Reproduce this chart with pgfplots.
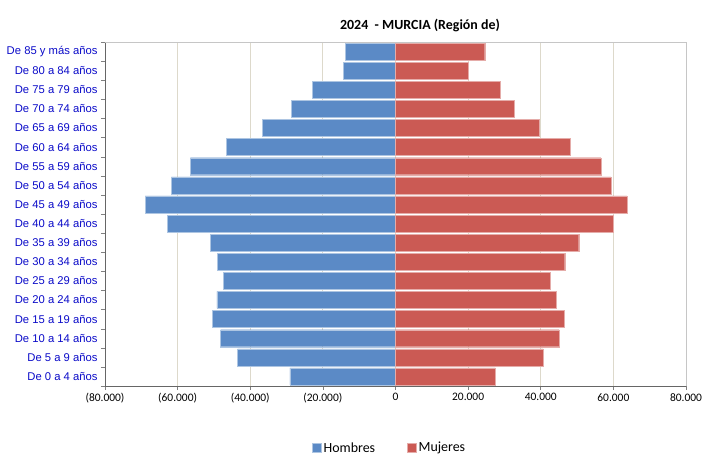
\documentclass[border=0pt]{standalone}
\usepackage{pgfplots}
\pgfplotsset{compat=1.18}
\usepackage{fontspec}
\setmainfont{Carlito}
\newfontfamily\labfont{Liberation Sans}
\definecolor{hblue}{RGB}{91,138,198}
\definecolor{mred}{RGB}{203,90,84}
\definecolor{labblue}{RGB}{10,10,200}
\definecolor{gridc}{RGB}{221,217,203}
\begin{document}
\begin{tikzpicture}
\useasboundingbox (0bp,0bp) rectangle (718bp,469bp);
\node[font=\fontsize{14}{16}\selectfont\bfseries] at (420bp,443bp) {2024\ \ - MURCIA (Región de)};
\begin{axis}[
  at={(105bp,83bp)}, anchor=south west,
  scale only axis, width=581bp, height=344bp,
  xmin=-80000, xmax=80000, ymin=-0.5, ymax=17.5,
  scaled x ticks=false,
  xtick={-80000,-60000,-40000,-20000,0,20000,40000,60000,80000},
  xticklabels={(80.000),(60.000),(40.000),(20.000),0,20.000,40.000,60.000,80.000},
  ytick={0,...,17},
  yticklabels={De 0 a 4 años,De 5 a 9 años,De 10 a 14 años,De 15 a 19 años,De 20 a 24 años,De 25 a 29 años,De 30 a 34 años,De 35 a 39 años,De 40 a 44 años,De 45 a 49 años,De 50 a 54 años,De 55 a 59 años,De 60 a 64 años,De 65 a 69 años,De 70 a 74 años,De 75 a 79 años,De 80 a 84 años,De 85 y más años},
  yticklabel style={font=\labfont\fontsize{11.3}{12}\selectfont, text=labblue},
  xticklabel style={font=\fontsize{11.5}{12}\selectfont},
  /pgf/number format/assume math mode=true,
  axis x line*=bottom, axis y line*=left,
  axis line style={draw=gray!80!black},
  x axis line style={-}, y axis line style={-},
  xmajorgrids, major grid style={draw=gridc, line width=0.8pt},
  x tick style={draw=gray, line width=0.6pt}, xtick align=outside, major tick length=4bp,
  y tick style={draw=none},
  minor ytick={-0.5,0.5,...,17.5}, minor y tick style={draw=gray}, minor tick length=4bp,
  ytick align=outside,
  xbar, bar width=17bp, bar shift=0pt,
  legend style={at={(0.49,-0.180)}, anchor=center, draw=none, legend columns=2,
    font=\fontsize{14}{15}\selectfont, /tikz/every even column/.append style={column sep=30bp}},
  legend image code/.code={\fill[#1] (0bp,-4.5bp) rectangle (9bp,4.5bp);},
  after end axis/.code={\draw[gray!45] (rel axis cs:0,1) -- (rel axis cs:1,1) -- (rel axis cs:1,0);},
]
\addplot[fill=hblue, draw=hblue!50!white, line width=0.4pt] coordinates {
(-29078,0) (-43466,1) (-48143,2) (-50344,3) (-49161,4) (-47318,5) (-49078,6) (-51004,7) (-62916,8) (-68968,9) (-61733,10) (-56506,11) (-46602,12) (-36589,13) (-28720,14) (-22943,15) (-14305,16) (-13755,17)};
\addlegendentry{Hombres}
\addplot[fill=mred, draw=mred!50!white, line width=0.4pt] coordinates {
(27430,0) (40630,1) (45030,2) (46410,3) (44290,4) (42560,5) (46600,6) (50450,7) (59890,8) (63740,9) (59340,10) (56590,11) (48140,12) (39530,13) (32740,14) (28800,15) (19900,16) (24570,17)};
\addlegendentry{Mujeres}
\end{axis}
\end{tikzpicture}
\end{document}
